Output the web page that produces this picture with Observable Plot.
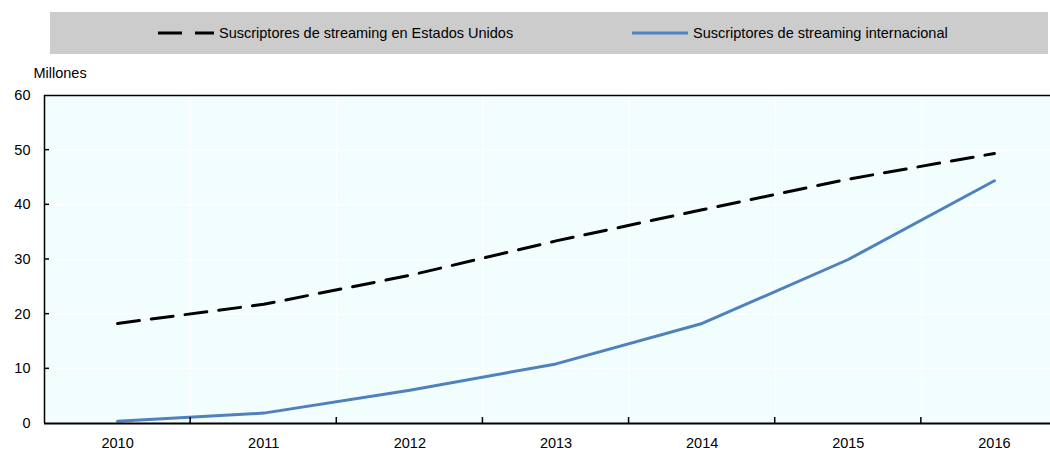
<!DOCTYPE html>
<html>
<head>
<meta charset="utf-8">
<script src="https://cdn.jsdelivr.net/npm/d3@7"></script>
<script src="https://cdn.jsdelivr.net/npm/@observablehq/plot@0.6"></script>
<style>
  html, body { margin: 0; padding: 0; background: #fff; width: 1050px; height: 451px; overflow: hidden; }
  body { font-family: "Liberation Sans Narrow", "Arial Narrow", "Liberation Sans", sans-serif; }
  #legend { position: absolute; left: 50px; top: 12px; width: 998px; height: 42px; background: #cccccc; font-size: 14.5px; color: #000; }
  .item { position: absolute; top: 0; height: 42px; display: flex; align-items: center; }
  .item svg { margin-right: 5px; }
  #chart { position: absolute; left: 0; top: 60px; }
</style>
</head>
<body>
<div id="legend"></div>
<div id="chart"></div>
<script>
const years = [2010, 2011, 2012, 2013, 2014, 2015, 2016];
const usSubs = [18.3, 21.8, 27.1, 33.4, 39.1, 44.7, 49.4];
const intlSubs = [0.4, 1.9, 6.1, 10.9, 18.3, 30.0, 44.4];
const seriesNames = ["Suscriptores de streaming en Estados Unidos", "Suscriptores de streaming internacional"];
const yTicks = [0, 10, 20, 30, 40, 50, 60];
const yLabel = "Millones";

const data = [];
years.forEach((y, i) => {
  data.push({year: y, value: usSubs[i], series: seriesNames[0]});
  data.push({year: y, value: intlSubs[i], series: seriesNames[1]});
});
const boundaries = years.slice(1).map(y => y - 0.5);
const innerTicks = yTicks.filter(t => t > 0 && t < 60);

const W = 1050, H = 391;
const font = '"Liberation Sans Narrow", "Arial Narrow", "Liberation Sans", sans-serif';

const plot = Plot.plot({
  width: W,
  height: H,
  marginTop: 35,
  marginBottom: 28,
  marginLeft: 44,
  marginRight: 0,
  style: {fontFamily: font, fontSize: "14.5px", color: "#000", background: "transparent", overflow: "visible"},
  x: {domain: [2009.5, 2016.5], range: [44, 1067], axis: null},
  y: {domain: [0, 60], axis: null},
  marks: [
    Plot.frame({fill: "#f2fdfd", stroke: null}),
    Plot.gridY(innerTicks, {stroke: "#ffffff", strokeOpacity: 1, strokeWidth: 1}),
    Plot.gridX(boundaries, {stroke: "#ffffff", strokeOpacity: 1, strokeWidth: 1}),
    Plot.ruleY([60], {stroke: "#000", strokeWidth: 1.5}),
    Plot.ruleX([2009.5], {stroke: "#000", strokeWidth: 1.5}),
    Plot.line(data.filter(d => d.series === seriesNames[1]), {x: "year", y: "value", stroke: "#4f81bd", strokeWidth: 3}),
    Plot.line(data.filter(d => d.series === seriesNames[0]), {x: "year", y: "value", stroke: "#000", strokeWidth: 3, strokeDasharray: "22,12"}),
    Plot.ruleY([0], {stroke: "#000", strokeWidth: 2}),
    Plot.axisY(yTicks, {tickSize: 0, tickPadding: 14, fontSize: 14.5, label: null}),
    Plot.axisX(years, {tickSize: 0, tickPadding: 14, fontSize: 14.5, label: null, tickFormat: d => String(d)}),
    Plot.text([yLabel], {frameAnchor: "top-left", dx: -11, dy: -28, textAnchor: "start", fontSize: 14.5})
  ]
});
document.getElementById("chart").appendChild(plot);

// Inward tick marks on axes, positioned through the plot's scales
const sx = plot.scale("x"), sy = plot.scale("y");
const svg = d3.select(plot);
const g = svg.append("g").attr("stroke", "#000").attr("stroke-width", 1.5);
boundaries.forEach(b => {
  const px = sx.apply(b);
  g.append("line").attr("x1", px).attr("x2", px).attr("y1", sy.apply(0)).attr("y2", sy.apply(0) - 6);
});
innerTicks.forEach(t => {
  const py = sy.apply(t);
  g.append("line").attr("x1", sx.apply(2009.5)).attr("x2", sx.apply(2009.5) + 5).attr("y1", py).attr("y2", py);
});

// Legend
const legend = document.getElementById("legend");
const items = [
  {name: seriesNames[0], left: 108, swatch: '<svg width="56" height="8"><line x1="0" y1="4" x2="56" y2="4" stroke="#000" stroke-width="3" stroke-dasharray="24,13"/></svg>'},
  {name: seriesNames[1], left: 582, swatch: '<svg width="56" height="8"><line x1="0" y1="4" x2="56" y2="4" stroke="#4f81bd" stroke-width="3"/></svg>'}
];
items.forEach(it => {
  const d = document.createElement("div");
  d.className = "item";
  d.style.left = it.left + "px";
  d.innerHTML = it.swatch + "<span>" + it.name + "</span>";
  legend.appendChild(d);
});
</script>
</body>
</html>
